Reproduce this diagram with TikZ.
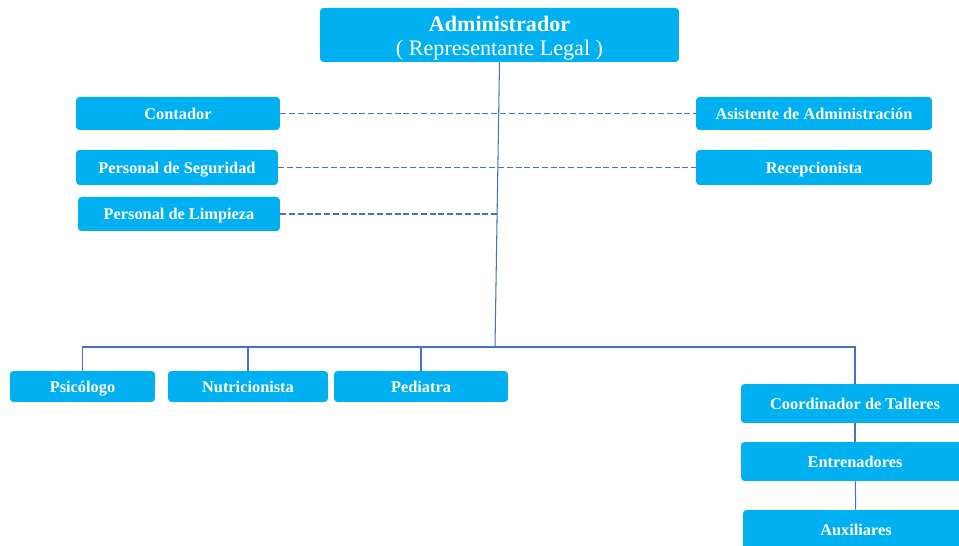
\documentclass[tikz,border=0pt]{standalone}
\usepackage{fontspec}
\setmainfont{Liberation Serif}
\usetikzlibrary{positioning, calc}
\definecolor{colour_box}{HTML}{00B0F0}
\definecolor{colour_line}{HTML}{4472C4}

\begin{document}
\begin{tikzpicture}[
    x=0.02cm, y=-0.02cm,
    box/.style={rectangle, fill=colour_box, rounded corners=2pt, text=white,
                font=\fontsize{9.3}{11}\selectfont\bfseries, align=center,
                inner sep=0pt, text height=1.8ex, text depth=0.35ex},
    link/.style={colour_line, line width=0.6pt},
    dashlink/.style={colour_line, line width=0.6pt, dash pattern=on 3.4pt off 1.6pt}
]
\useasboundingbox (0,0) rectangle (959,546);
\clip (0,0) rectangle (959,546);

% Head
\node[box, text height=, text depth=, minimum width=7.18cm, minimum height=1.08cm,
      font=\fontsize{12.6}{13.2}\selectfont\bfseries] (admin) at (499.5,35)
     {\rule{0pt}{12.5pt}Administrador\\{\mdseries ( Representante Legal )}};

% Staff boxes
\node[box, minimum width=4.08cm, minimum height=0.66cm] (contador) at (178,113.5) {Contador};
\node[box, minimum width=4.04cm, minimum height=0.70cm] (seguridad) at (177,167.5) {Personal de Seguridad};
\node[box, minimum width=4.04cm, minimum height=0.68cm] (limpieza) at (179,214) {Personal de Limpieza};
\node[box, minimum width=4.72cm, minimum height=0.66cm] (asistente) at (814,113.5) {Asistente de Administración};
\node[box, minimum width=4.72cm, minimum height=0.70cm] (recepcion) at (814,167.5) {Recepcionista};

% Lower level
\node[box, minimum width=2.90cm, minimum height=0.62cm] (psicologo) at (82.5,386.5) {Psicólogo};
\node[box, minimum width=3.20cm, minimum height=0.62cm] (nutri) at (248,386.5) {Nutricionista};
\node[box, minimum width=3.48cm, minimum height=0.62cm] (pediatra) at (421,386.5) {Pediatra};
\node[box, minimum width=4.56cm, minimum height=0.78cm] (coord) at (855,403.5) {Coordinador de Talleres};
\node[box, minimum width=4.56cm, minimum height=0.78cm] (entren) at (855,461.5) {Entrenadores};
\node[box, minimum width=4.52cm, minimum height=0.80cm] (aux) at (856,530) {Auxiliares};

% Connectors
\coordinate (bus) at (495,347);
\draw[link] (admin.south) -- (bus);
\draw[link] (bus) -| (psicologo.north);
\draw[link] (bus) -| (coord.north);
\draw[link] (nutri.north) -- ++(0,-23) -| (pediatra.north);
\draw[link] (coord) -- (entren);
\draw[link] (entren) -- (aux);

\draw[dashlink] (contador.east) -- (asistente.west);
\draw[dashlink] (seguridad.east) -- (recepcion.west);
\draw[dashlink] (limpieza.east) -- (limpieza.east -| admin.south);

\end{tikzpicture}
\end{document}
